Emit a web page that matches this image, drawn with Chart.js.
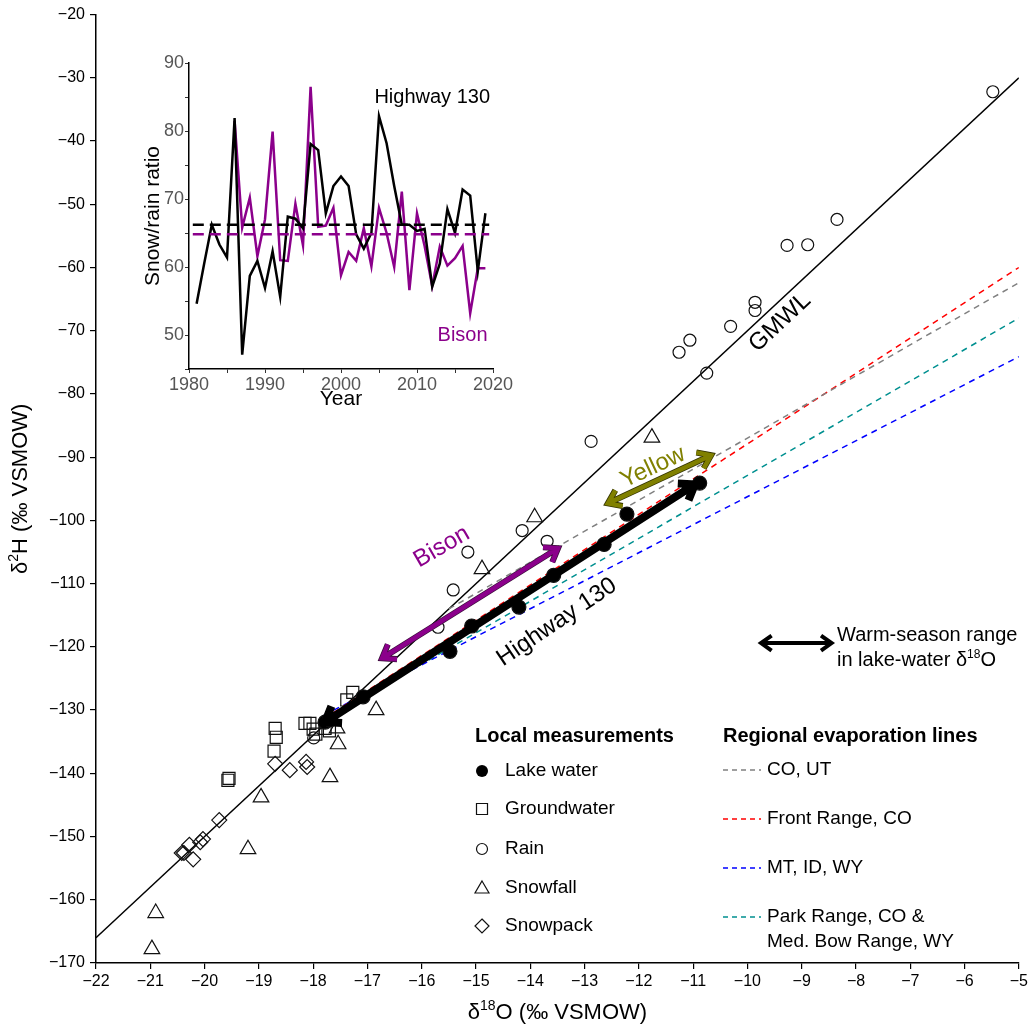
<!DOCTYPE html>
<html>
<head>
<meta charset="utf-8">
<script src="https://cdn.jsdelivr.net/npm/chart.js@4.4.1/dist/chart.umd.min.js"></script>
<style>
  body { margin: 0; background: #fff; }
  #wrap { position: relative; width: 1031px; height: 1027px; }
  #main { position: absolute; left: 0; top: 0; }
  #inset { position: absolute; left: 100px; top: 40px; }
</style>
</head>
<body>
<div id="wrap">
  <canvas id="main" width="1031" height="1027"></canvas>
  <canvas id="inset" width="420" height="380"></canvas>
</div>
<script>
// ---- main plot data (d18O, d2H in permil VSMOW) ----
const lakeX = [-10.88, -12.22, -12.64, -13.57, -14.21, -15.08, -15.48, -17.08, -17.78, -17.70];
const lakeY = [-94.1, -99.0, -103.8, -108.7, -113.7, -116.7, -120.7, -127.9, -131.9, -131.5];

const groundX = [-19.57, -19.55, -18.70, -18.68, -18.72, -18.15, -18.06, -18.00, -17.95, -17.78, -17.70, -17.27, -17.38];
const groundY = [-141.1, -140.8, -132.9, -134.3, -136.5, -132.1, -132.1, -133.0, -133.8, -132.9, -133.3, -127.2, -128.4];

const rainX = [-5.48, -8.35, -9.27, -8.89, -9.86, -9.86, -10.31, -11.06, -11.26, -10.75, -12.88, -14.15, -13.69, -15.15, -15.42, -15.70, -17.99];
const rainY = [-32.2, -52.4, -56.5, -56.4, -65.5, -66.8, -69.3, -71.5, -73.4, -76.7, -87.5, -101.6, -103.3, -105.0, -111.0, -116.9, -134.4];

const snowfallX = [-11.76, -13.92, -14.89, -16.84, -17.56, -17.54, -17.69, -18.96, -19.20, -20.90, -20.97];
const snowfallY = [-86.9, -99.5, -107.7, -130.0, -132.9, -135.4, -140.6, -143.8, -152.0, -162.1, -167.8];

const snowpackX = [-18.70, -18.43, -18.13, -18.11, -19.73, -20.03, -20.08, -20.28, -20.38, -20.21, -20.42];
const snowpackY = [-138.5, -139.5, -138.2, -139.0, -147.4, -150.4, -150.9, -151.3, -152.6, -153.6, -152.6];

// lines
const gmwlX = [-22, -5];
const gmwlY = [-166, -30];
const coUtX = [-15.5, -5], coUtY = [-114.0, -62.4];
const frontX = [-17.8, -5], frontY = [-131.4, -60.0];
const mtX = [-17.8, -5], mtY = [-130.8, -74.1];
const parkX = [-17.8, -5], parkY = [-131.7, -68.0];

// warm-season ranges
const bisonArrX = [-16.73, -13.49], bisonArrY = [-121.8, -104.4];
const yellowArrX = [-12.57, -10.67], yellowArrY = [-97.3, -89.7];
const hwyArrX = [-17.78, -10.97], hwyArrY = [-131.9, -94.3];
const keyArrX = [-9.75, -8.45], keyArrY = [-119.4, -119.4];

// ---- inset data (snow/rain ratio) ----
const years = [1981, 1982, 1983, 1984, 1985, 1986, 1987, 1988, 1989, 1990,
  1991, 1992, 1993, 1994, 1995, 1996, 1997, 1998, 1999, 2000,
  2001, 2002, 2003, 2004, 2005, 2006, 2007, 2008, 2009, 2010,
  2011, 2012, 2013, 2014, 2015, 2016, 2017, 2018, 2019];
const hwy130 = [54.6, 60.5, 66.2, 63.3, 61.4, 81.9, 47.1, 58.7, 60.9, 56.9,
  62.3, 55.6, 67.4, 67.1, 65.7, 78.1, 77.2, 67.9, 71.9, 73.3,
  71.9, 64.8, 62.7, 65.0, 82.2, 78.2, 71.9, 66.2, 66.2, 65.3,
  65.6, 57.1, 60.5, 68.5, 65.0, 71.4, 70.5, 59.4, 67.9];
const bison = [null, null, null, null, null, 81.5, 65.8, 70.2, 61.6, 67.0,
  79.9, 61.0, 60.9, 69.3, 63.2, 86.5, 65.9, 66.1, 68.7, 58.8,
  62.2, 60.9, 65.7, 60.1, 68.7, 65.0, 60.0, 71.1, 56.6, 67.9,
  63.1, 57.2, 63.0, 60.2, 61.3, 63.1, 53.2, 59.8, 59.8];
const meanSpan = [1980.5, 2019.5];
const hwyMean = 66.2;
const bisonMean = 64.8;

const purple = '#8b008b';
const olive = '#808000';
const narrow = "'Liberation Sans Narrow', 'Liberation Sans', Arial, sans-serif";
const sans = "'Liberation Sans', Arial, sans-serif";

function pts(xs, ys) { return xs.map((x, i) => ({x: x, y: ys[i]})); }
function minusFmt(v) { return v < 0 ? '\u2212' + Math.abs(v) : String(v); }

function lineSet(xs, ys, color, width, dash, order) {
  return {
    data: pts(xs, ys), showLine: true, borderColor: color, borderWidth: width,
    borderDash: dash || [], pointRadius: 0, fill: false, order: order
  };
}
function markerSet(xs, ys, style, r, filled, order) {
  return {
    data: pts(xs, ys), showLine: false, pointStyle: style, pointRadius: r,
    pointBorderColor: '#111', pointBorderWidth: 1.2,
    pointBackgroundColor: filled ? '#000' : 'rgba(0,0,0,0)', order: order
  };
}
function arrowSet(xs, ys, color, width, head, outline) {
  return {
    data: pts(xs, ys), showLine: false, pointRadius: 0, order: 0,
    arrow: {color: color, width: width, head: head, outline: outline}
  };
}

// double-headed arrow, chevron heads
function arrowPath(ctx, x1, y1, x2, y2, head) {
  const ang = Math.atan2(y2 - y1, x2 - x1);
  const spread = 0.62;
  ctx.beginPath();
  ctx.moveTo(x1, y1);
  ctx.lineTo(x2, y2);
  [[x2, y2, ang + Math.PI], [x1, y1, ang]].forEach(function (h) {
    ctx.moveTo(h[0] + head * Math.cos(h[2] - spread), h[1] + head * Math.sin(h[2] - spread));
    ctx.lineTo(h[0], h[1]);
    ctx.lineTo(h[0] + head * Math.cos(h[2] + spread), h[1] + head * Math.sin(h[2] + spread));
  });
}
function drawArrow(ctx, x1, y1, x2, y2, o) {
  ctx.save();
  ctx.lineJoin = 'miter';
  ctx.lineCap = 'butt';
  ctx.miterLimit = 6;
  if (o.outline) {
    ctx.strokeStyle = o.outline;
    ctx.lineWidth = o.width + 1.6;
    arrowPath(ctx, x1, y1, x2, y2, o.head);
    ctx.stroke();
  }
  ctx.strokeStyle = o.color;
  ctx.lineWidth = o.width;
  arrowPath(ctx, x1, y1, x2, y2, o.head);
  ctx.stroke();
  ctx.restore();
}

const arrowPlugin = {
  id: 'arrows',
  afterDatasetsDraw(chart) {
    chart.data.datasets.forEach(function (ds, i) {
      if (!ds.arrow) return;
      const d = chart.getDatasetMeta(i).data;
      drawArrow(chart.ctx, d[0].x, d[0].y, d[d.length - 1].x, d[d.length - 1].y, ds.arrow);
    });
  }
};

// text with a superscript part: parts = [[text, sup?], ...]
function supText(ctx, parts, x, y, size, family, align) {
  const big = size + 'px ' + family, small = Math.round(size * 0.62) + 'px ' + family;
  let total = 0;
  parts.forEach(function (p) { ctx.font = p[1] ? small : big; total += ctx.measureText(p[0]).width; });
  let cx = align === 'center' ? x - total / 2 : x;
  ctx.textAlign = 'left';
  ctx.textBaseline = 'alphabetic';
  parts.forEach(function (p) {
    ctx.font = p[1] ? small : big;
    ctx.fillText(p[0], cx, p[1] ? y - size * 0.42 : y);
    cx += ctx.measureText(p[0]).width;
  });
}

const notes = [
  {text: 'Bison', x: -15.63, y: -104.2, rot: -30, color: purple},
  {text: 'Yellow', x: -11.74, y: -91.6, rot: -25, color: olive},
  {text: 'Highway 130', x: -13.51, y: -116.1, rot: -34, color: '#000'},
  {text: 'GMWL', x: -9.40, y: -68.7, rot: -43, color: '#000'}
];

function legendMarker(ctx, style, x, y) {
  ctx.save();
  ctx.strokeStyle = '#111';
  ctx.fillStyle = '#000';
  ctx.lineWidth = 1.2;
  ctx.beginPath();
  if (style === 'dot') { ctx.arc(x, y, 6, 0, Math.PI * 2); ctx.fill(); }
  else if (style === 'circle') { ctx.arc(x, y, 5.5, 0, Math.PI * 2); ctx.stroke(); }
  else if (style === 'rect') { ctx.rect(x - 5.5, y - 5.5, 11, 11); ctx.stroke(); }
  else if (style === 'triangle') { ctx.moveTo(x, y - 7); ctx.lineTo(x + 7, y + 5); ctx.lineTo(x - 7, y + 5); ctx.closePath(); ctx.stroke(); }
  else if (style === 'diamond') { ctx.moveTo(x, y - 7); ctx.lineTo(x + 7, y); ctx.lineTo(x, y + 7); ctx.lineTo(x - 7, y); ctx.closePath(); ctx.stroke(); }
  ctx.restore();
}

const localItems = [['dot', 'Lake water'], ['rect', 'Groundwater'], ['circle', 'Rain'], ['triangle', 'Snowfall'], ['diamond', 'Snowpack']];
const localRows = [771, 809, 849, 888, 926];
const evapItems = [['#808080', ['CO, UT']], ['#ff0000', ['Front Range, CO']], ['#0000ff', ['MT, ID, WY']], ['#009090', ['Park Range, CO &', 'Med. Bow Range, WY']]];
const evapRows = [770, 819, 868, 917];

const decorPlugin = {
  id: 'decor',
  afterDraw(chart) {
    const ctx = chart.ctx, sx = chart.scales.x, sy = chart.scales.y;
    ctx.save();
    // rotated labels along lines
    notes.forEach(function (n) {
      ctx.save();
      ctx.translate(sx.getPixelForValue(n.x), sy.getPixelForValue(n.y));
      ctx.rotate(n.rot * Math.PI / 180);
      ctx.font = '24px ' + sans;
      ctx.fillStyle = n.color;
      ctx.textAlign = 'center';
      ctx.textBaseline = 'middle';
      ctx.fillText(n.text, 0, 0);
      ctx.restore();
    });
    // axis titles
    ctx.fillStyle = '#000';
    supText(ctx, [['\u03b4'], ['18', true], ['O (\u2030 VSMOW)']], (chart.chartArea.left + chart.chartArea.right) / 2, 1019, 22, narrow, 'center');
    ctx.save();
    ctx.translate(27, (chart.chartArea.top + chart.chartArea.bottom) / 2);
    ctx.rotate(-Math.PI / 2);
    supText(ctx, [['\u03b4'], ['2', true], ['H (\u2030 VSMOW)']], 0, 0, 22, narrow, 'center');
    ctx.restore();

    // warm-season key text
    ctx.fillStyle = '#000';
    supText(ctx, [['Warm-season range']], 837, 641, 20, sans, 'left');
    supText(ctx, [['in lake-water \u03b4'], ['18', true], ['O']], 837, 666, 20, sans, 'left');

    // legend blocks
    ctx.font = 'bold 20px ' + sans;
    ctx.textAlign = 'left';
    ctx.textBaseline = 'middle';
    ctx.fillText('Local measurements', 475, 736);
    ctx.fillText('Regional evaporation lines', 723, 736);
    ctx.font = '19px ' + sans;
    localItems.forEach(function (it, i) {
      legendMarker(ctx, it[0], 482, localRows[i]);
      ctx.fillStyle = '#000';
      ctx.fillText(it[1], 505, localRows[i]);
    });
    evapItems.forEach(function (it, i) {
      const y = evapRows[i];
      ctx.save();
      ctx.strokeStyle = it[0];
      ctx.lineWidth = 1.5;
      ctx.setLineDash([5, 4]);
      ctx.beginPath();
      ctx.moveTo(723, y);
      ctx.lineTo(761, y);
      ctx.stroke();
      ctx.restore();
      it[1].forEach(function (t, j) { ctx.fillText(t, 767, y + j * 25); });
    });
    ctx.restore();
  }
};

new Chart(document.getElementById('main'), {
  type: 'scatter',
  data: {
    datasets: [
      lineSet(gmwlX, gmwlY, '#000', 1.4, null, 6),
      lineSet(coUtX, coUtY, '#808080', 1.5, [6, 5], 5),
      lineSet(frontX, frontY, '#ff0000', 1.5, [6, 5], 5),
      lineSet(mtX, mtY, '#0000ff', 1.5, [6, 5], 5),
      lineSet(parkX, parkY, '#009090', 1.5, [6, 5], 5),
      markerSet(groundX, groundY, 'rect', 8.5, false, 3),
      markerSet(rainX, rainY, 'circle', 6, false, 3),
      markerSet(snowfallX, snowfallY, 'triangle', 9, false, 3),
      markerSet(snowpackX, snowpackY, 'rectRot', 7.5, false, 3),
      markerSet(lakeX, lakeY, 'circle', 7, true, 1),
      arrowSet(bisonArrX, bisonArrY, purple, 4.5, 15, '#3a103a'),
      arrowSet(yellowArrX, yellowArrY, olive, 4.5, 15, '#333300'),
      arrowSet(hwyArrX, hwyArrY, '#000', 8, 17, null),
      arrowSet(keyArrX, keyArrY, '#000', 4, 13, null)
    ]
  },
  options: {
    responsive: false,
    animation: false,
    events: [],
    layout: {padding: {top: 14, right: 12, left: 0, bottom: 0}},
    plugins: {legend: {display: false}, tooltip: {enabled: false}},
    scales: {
      x: {
        type: 'linear', min: -22, max: -5,
        ticks: {stepSize: 1, autoSkip: false, maxRotation: 0, callback: minusFmt, color: '#000', padding: 3, font: {family: narrow, size: 16}},
        grid: {drawOnChartArea: false, tickLength: 6, color: '#000', lineWidth: 1.2},
        border: {color: '#000', width: 1.5},
        afterFit: function (s) { s.height = 64; }
      },
      y: {
        type: 'linear', min: -170, max: -20,
        ticks: {stepSize: 10, autoSkip: false, callback: minusFmt, color: '#000', padding: 5, font: {family: narrow, size: 16}},
        grid: {drawOnChartArea: false, tickLength: 6, color: '#000', lineWidth: 1.2},
        border: {color: '#000', width: 1.5},
        afterFit: function (s) { s.width = 96; }
      }
    }
  },
  plugins: [arrowPlugin, decorPlugin]
});

// ---- inset ----
const insetText = {
  id: 'insetText',
  afterDraw(chart) {
    const ctx = chart.ctx, sx = chart.scales.x, sy = chart.scales.y, ca = chart.chartArea;
    ctx.save();
    ctx.textAlign = 'center';
    ctx.textBaseline = 'middle';
    ctx.font = '20px ' + sans;
    ctx.fillStyle = '#000';
    ctx.fillText('Highway 130', sx.getPixelForValue(2012), sy.getPixelForValue(85));
    ctx.fillStyle = purple;
    ctx.fillText('Bison', sx.getPixelForValue(2016), sy.getPixelForValue(50));
    ctx.fillStyle = '#000';
    ctx.font = '21px ' + sans;
    ctx.fillText('Year', (ca.left + ca.right) / 2, 359);
    ctx.translate(53, (ca.top + ca.bottom) / 2);
    ctx.rotate(-Math.PI / 2);
    ctx.fillText('Snow/rain ratio', 0, 0);
    ctx.restore();
  }
};

new Chart(document.getElementById('inset'), {
  type: 'scatter',
  data: {
    datasets: [
      lineSet(years, hwy130, '#000', 2.5, null, 1),
      lineSet(years, bison, purple, 2.5, null, 2),
      lineSet(meanSpan, [hwyMean, hwyMean], '#000', 2.5, [11, 6], 0),
      lineSet(meanSpan, [bisonMean, bisonMean], purple, 2.5, [11, 6], 0)
    ]
  },
  options: {
    responsive: false,
    animation: false,
    events: [],
    spanGaps: false,
    layout: {padding: {top: 23, right: 27, left: 0, bottom: 0}},
    plugins: {legend: {display: false}, tooltip: {enabled: false}},
    scales: {
      x: {
        type: 'linear', min: 1980, max: 2020,
        ticks: {stepSize: 5, autoSkip: false, maxRotation: 0, color: '#555', padding: 1,
          callback: function (v) { return v % 10 === 0 ? String(v) : ''; }, font: {family: sans, size: 18}},
        grid: {drawOnChartArea: false, tickLength: 4, color: '#333', lineWidth: 1},
        border: {color: '#000', width: 1.5},
        afterFit: function (s) { s.height = 51; }
      },
      y: {
        type: 'linear', min: 45, max: 90,
        ticks: {stepSize: 5, autoSkip: false, color: '#555', padding: 1,
          callback: function (v) { return v % 10 === 0 ? String(v) : ''; }, font: {family: sans, size: 18}},
        grid: {drawOnChartArea: false, tickLength: 4, color: '#333', lineWidth: 1},
        border: {color: '#000', width: 1.5},
        afterFit: function (s) { s.width = 89; }
      }
    }
  },
  plugins: [insetText]
});
</script>
</body>
</html>
